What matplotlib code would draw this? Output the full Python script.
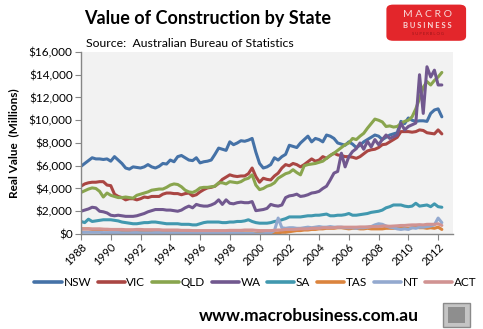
import numpy as np
import matplotlib
matplotlib.use("Agg")
import matplotlib.pyplot as plt
from matplotlib.patches import FancyBboxPatch, Rectangle
from matplotlib.ticker import FuncFormatter

plt.rcParams['font.family'] = ['Lato', 'DejaVu Sans']

# quarterly, 1988 Q1 .. 2012 Q2, real value $ thousands of millions
quarters = 1988 + np.arange(98) / 4.0

nsw = [5.95, 6.2, 6.45, 6.7, 6.6, 6.6, 6.55, 6.6, 6.4, 6.8, 6.5, 6.2,
       5.8, 5.7, 5.9, 5.85, 5.8, 5.9, 6.1, 5.9, 5.8, 5.95, 6.2, 6.15,
       6.5, 6.35, 6.8, 6.9, 6.7, 6.5, 6.45, 6.7, 6.25, 6.35, 6.4, 6.5,
       7.0, 7.55, 7.45, 7.35, 8.1, 7.85, 8.0, 8.2, 8.15, 8.25, 8.4, 7.2,
       6.2, 5.8, 5.9, 6.1, 6.7, 6.5, 6.8, 7.0, 7.8, 7.7, 7.6, 8.0,
       8.3, 8.6, 8.1, 8.4, 8.3, 8.1, 8.7, 8.6, 8.4, 8.0, 7.9, 7.8,
       8.1, 7.9, 7.6, 7.8, 8.1, 8.3, 8.5, 8.7, 8.6, 8.3, 8.5, 8.7,
       8.8, 8.9, 9.9, 9.7, 10.2, 10.0, 9.9, 9.95, 9.95, 9.9, 10.6, 10.9,
       11.0, 10.3]
vic = [4.2, 4.4, 4.5, 4.55, 4.55, 4.6, 4.6, 4.3, 4.25, 3.5, 3.3, 3.2,
       3.0, 3.1, 3.1, 3.0, 3.1, 3.25, 3.2, 3.3, 3.3, 3.3, 3.5, 3.6,
       3.6, 3.55, 3.55, 3.45, 3.55, 3.6, 3.35, 3.45, 3.7, 3.9, 4.05, 4.1,
       4.2, 4.45, 4.8, 5.0, 5.2, 5.1, 5.05, 5.1, 5.1, 5.3, 5.8, 5.05,
       4.55, 4.9, 4.8, 4.75, 5.1, 5.35, 5.8, 6.1, 6.0, 6.2, 6.1, 5.9,
       6.1, 6.35, 6.6, 6.4, 6.5, 6.8, 6.65, 6.9, 7.1, 6.95, 6.9, 6.8,
       6.8, 6.75, 6.65, 6.8, 7.05, 7.3, 7.4, 7.45, 7.6, 7.85, 7.9, 8.1,
       8.3, 8.5, 9.0, 9.0, 9.0, 8.95, 9.0, 9.15, 9.1, 8.9, 8.85, 8.8,
       9.15, 8.8]
qld = [3.65, 3.8, 3.95, 4.05, 4.0, 3.75, 3.25, 3.6, 3.4, 3.3, 3.2, 3.2,
       3.25, 3.2, 3.15, 3.4, 3.5, 3.6, 3.7, 3.85, 3.9, 3.95, 3.95, 4.1,
       4.3, 4.4, 4.35, 4.15, 3.85, 3.7, 3.65, 3.8, 4.05, 4.1, 4.1, 4.15,
       4.2, 4.5, 4.5, 4.4, 4.6, 4.55, 4.5, 4.6, 4.8, 4.9, 5.2, 4.3,
       3.9, 4.0, 4.2, 4.3, 4.5, 4.9, 5.1, 5.3, 5.4, 5.65, 5.4, 5.2,
       6.0, 6.1, 6.15, 6.2, 6.3, 6.4, 6.65, 6.9, 7.1, 7.35, 7.6, 7.85,
       8.0, 8.4, 8.3, 8.6, 8.85, 9.3, 9.7, 10.1, 10.0, 9.85, 9.45, 9.5,
       9.4, 9.45, 9.7, 9.9, 10.0, 10.3, 11.0, 11.9, 12.9, 13.4, 13.1, 13.5,
       13.8, 14.2]
wa = [2.0, 2.1, 2.2, 2.35, 2.3, 2.0, 1.95, 1.85, 1.65, 1.6, 1.65, 1.6,
      1.55, 1.55, 1.55, 1.6, 1.7, 1.8, 1.95, 2.05, 2.15, 2.15, 2.15, 2.1,
      2.1, 2.05, 2.0, 2.1, 2.3, 2.45, 2.3, 2.6, 2.5, 2.45, 2.45, 2.55,
      2.7, 3.0, 2.6, 3.0, 2.7, 2.65, 2.75, 2.8, 2.75, 2.75, 2.85, 2.05,
      2.1, 2.15, 2.25, 2.6, 2.5, 2.45, 2.55, 3.2, 3.35, 3.4, 3.5, 3.3,
      3.35, 3.45, 3.6, 3.65, 3.75, 4.0, 4.2, 4.75, 5.35, 5.5, 7.1, 5.9,
      6.8, 7.25, 7.5, 8.0, 7.45, 8.15, 7.65, 8.3, 7.85, 8.3, 8.7, 8.4,
      8.55, 8.7, 9.75, 9.15, 9.45, 9.6, 9.75, 14.0, 10.6, 14.7, 13.8, 14.4,
      13.1, 13.1]
sa = [1.1, 1.0, 1.3, 1.1, 1.15, 1.2, 1.25, 1.25, 1.25, 1.2, 1.15, 1.05,
      1.0, 0.95, 0.9, 0.9, 0.95, 1.0, 1.0, 1.05, 1.05, 1.0, 0.95, 0.9,
      0.9, 0.9, 0.9, 0.85, 0.85, 0.85, 0.8, 0.8, 0.9, 1.0, 1.05, 1.05,
      1.05, 1.05, 1.0, 1.0, 1.05, 1.05, 1.1, 1.1, 1.15, 1.25, 1.1, 1.0,
      0.95, 0.95, 0.95, 1.0, 1.1, 1.15, 1.25, 1.35, 1.5, 1.5, 1.5, 1.5,
      1.55, 1.6, 1.6, 1.65, 1.65, 1.7, 1.75, 1.6, 1.6, 1.65, 1.65, 1.7,
      1.8, 1.65, 1.65, 1.7, 1.75, 1.8, 1.9, 1.95, 2.0, 2.1, 2.3, 2.4,
      2.55, 2.55, 2.55, 2.45, 2.4, 2.45, 2.7, 2.45, 2.5, 2.55, 2.4, 2.65,
      2.4, 2.35]
tas = [0.45, 0.45, 0.45, 0.4, 0.4, 0.4, 0.4, 0.38, 0.35, 0.35, 0.33, 0.3,
       0.3, 0.3, 0.28, 0.3, 0.3, 0.28, 0.28, 0.3, 0.3, 0.28, 0.25, 0.25,
       0.25, 0.22, 0.22, 0.2, 0.2, 0.2, 0.18, 0.2, 0.2, 0.2, 0.18, 0.18,
       0.2, 0.2, 0.18, 0.15, 0.15, 0.15, 0.12, 0.12, 0.1, 0.1, 0.1, 0.05,
       0.05, 0.05, 0.05, 0.08, 0.1, 0.1, 0.15, 0.15, 0.2, 0.25, 0.3, 0.3,
       0.35, 0.35, 0.4, 0.4, 0.45, 0.45, 0.5, 0.5, 0.5, 0.55, 0.55, 0.5,
       0.45, 0.5, 0.5, 0.45, 0.45, 0.5, 0.45, 0.45, 0.45, 0.45, 0.5, 0.5,
       0.5, 0.55, 0.55, 0.5, 0.5, 0.55, 0.6, 0.55, 0.55, 0.5, 0.55, 0.5,
       0.6, 0.4]
nt = [0.15, 0.15, 0.15, 0.15, 0.15, 0.15, 0.12, 0.12, 0.12, 0.12, 0.12, 0.1,
      0.1, 0.1, 0.12, 0.12, 0.1, 0.1, 0.1, 0.1, 0.12, 0.12, 0.1, 0.1,
      0.1, 0.1, 0.1, 0.1, 0.1, 0.08, 0.08, 0.08, 0.08, 0.08, 0.1, 0.1,
      0.1, 0.1, 0.1, 0.1, 0.1, 0.1, 0.1, 0.08, 0.05, 0.05, 0.05, 0.0,
      0.0, 0.02, 0.05, 0.1, 0.3, 1.4, 0.55, 0.5, 0.55, 0.55, 0.5, 0.5,
      0.55, 0.6, 0.55, 0.6, 0.65, 0.6, 0.6, 0.65, 0.6, 0.6, 0.6, 0.55,
      0.55, 0.55, 0.5, 0.55, 0.55, 0.6, 0.65, 0.8, 0.9, 0.85, 0.7, 0.6,
      0.55, 0.45, 0.4, 0.45, 0.4, 0.55, 0.5, 0.6, 0.6, 0.65, 0.7, 0.8,
      1.4, 1.0]
act = [0.45, 0.45, 0.45, 0.45, 0.45, 0.45, 0.42, 0.42, 0.4, 0.4, 0.4, 0.4,
       0.38, 0.38, 0.38, 0.4, 0.4, 0.38, 0.38, 0.38, 0.38, 0.38, 0.35, 0.35,
       0.35, 0.35, 0.35, 0.32, 0.32, 0.32, 0.3, 0.3, 0.3, 0.3, 0.3, 0.3,
       0.3, 0.3, 0.3, 0.3, 0.32, 0.32, 0.32, 0.32, 0.35, 0.35, 0.35, 0.32,
       0.3, 0.3, 0.3, 0.3, 0.32, 0.35, 0.35, 0.4, 0.4, 0.4, 0.42, 0.45,
       0.45, 0.45, 0.5, 0.5, 0.5, 0.55, 0.55, 0.55, 0.55, 0.6, 0.6, 0.6,
       0.6, 0.6, 0.6, 0.62, 0.62, 0.62, 0.65, 0.65, 0.65, 0.7, 0.7, 0.68,
       0.7, 0.72, 0.75, 0.75, 0.78, 0.8, 0.8, 0.82, 0.8, 0.85, 0.85, 0.85,
       0.9, 0.75]

states = ["NSW", "VIC", "QLD", "WA", "SA", "TAS", "NT", "ACT"]
series = [nsw, vic, qld, wa, sa, tas, nt, act]
colors = ["#4572A7", "#AA4643", "#89A54E", "#71588F",
          "#4198AF", "#DB843D", "#93A9CF", "#D19392"]

fig = plt.figure(figsize=(4.83, 3.29), dpi=100)
ax = fig.add_axes([0.1677, 0.2888, 0.7702, 0.5532])
ax.set_facecolor("#F2F2F2")

for name, vals, c in zip(states, series, colors):
    ax.plot(quarters, np.array(vals) * 1000, color=c, lw=2.2, label=name,
            solid_joinstyle="round", solid_capstyle="round")

ax.set_xlim(1988, 2013)
ax.set_ylim(0, 16000)
ax.set_xticks(np.arange(1988, 2013, 2))
ax.set_xticklabels([str(y) for y in range(1988, 2013, 2)], rotation=45,
                   ha="right", rotation_mode="anchor", fontsize=8)
ax.set_yticks(np.arange(0, 16001, 2000))
ax.yaxis.set_major_formatter(FuncFormatter(lambda v, p: "${:,.0f}".format(v)))
ax.tick_params(axis="y", labelsize=8.5, length=4, color="#868686", pad=2)
ax.tick_params(axis="x", length=4, color="#868686", pad=1)
for s in ["top", "right"]:
    ax.spines[s].set_visible(False)
for s in ["left", "bottom"]:
    ax.spines[s].set_color("#868686")
    ax.spines[s].set_linewidth(1.0)

ax.set_ylabel("Real Value  (Millions)", fontsize=8.5, fontweight="bold", labelpad=7)

leg = fig.legend(loc="center", bbox_to_anchor=(0.529, 0.142), ncol=8, frameon=False,
                 fontsize=8.5, handlelength=2.3, handletextpad=0.15, columnspacing=0.55)
for h in leg.legend_handles:
    h.set_linewidth(2.6)

fig.text(0.43, 0.945, "Value of Construction by State", fontsize=13,
         fontweight="bold", ha="center", va="center")
fig.text(0.178, 0.868, "Source:  Australian Bureau of Statistics", fontsize=8.8,
         ha="left", va="center")
fig.text(0.64, 0.04, "www.macrobusiness.com.au", fontsize=12.5,
         fontweight="bold", ha="center", va="center")

# logo block, top right
logo = FancyBboxPatch((0.8, 0.876), 0.165, 0.11,
                      boxstyle="round,pad=0,rounding_size=0.014",
                      transform=fig.transFigure, facecolor="#E3262B",
                      edgecolor="none")
fig.patches.append(logo)
fig.text(0.885, 0.955, "M A C R O", fontsize=7.5, color="#F7D6D6",
         ha="center", va="center")
fig.text(0.885, 0.922, "B U S I N E S S", fontsize=5.5, color="#F7D6D6",
         ha="center", va="center", fontweight="bold")
fig.text(0.885, 0.898, "S U P E R B L O G", fontsize=3, color="#9C1519",
         ha="center", va="center")

# small badge, bottom right
badge = Rectangle((0.917, 0.006), 0.056, 0.073, transform=fig.transFigure,
                  facecolor="#C4C4C4", edgecolor="#8A8A8A", lw=1.0)
fig.patches.append(badge)
inner = Rectangle((0.927, 0.018), 0.036, 0.05, transform=fig.transFigure,
                  facecolor="#8E8E8E", edgecolor="none")
fig.patches.append(inner)

fig.savefig("out.png", dpi=100)
